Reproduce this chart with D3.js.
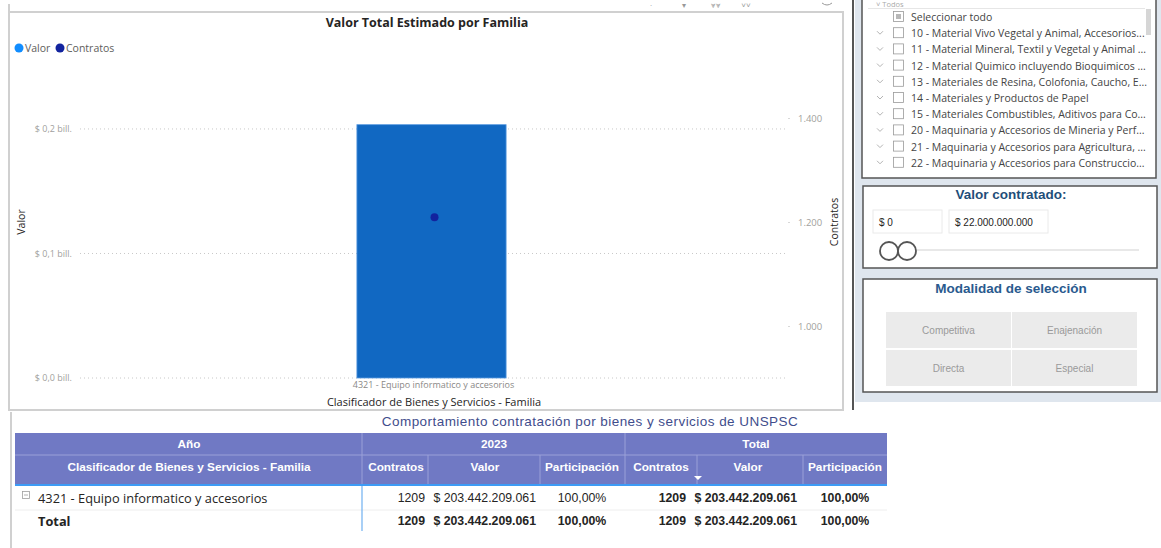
<!DOCTYPE html>
<html><head><meta charset="utf-8">
<script src="https://cdn.jsdelivr.net/npm/d3@7"></script>
<style>
html,body{margin:0;padding:0;background:#fff;}
svg{display:block;}
</style></head>
<body>
<svg id="c" width="1161" height="548"></svg>
<script>
// ---------- DATA ----------
const categories = ["4321 - Equipo informatico y accesorios"];
const valor = [203442209061];
const contratos = [1209];
const leftTicks = [0, 0.1e12, 0.2e12];
const rightTicks = [1000, 1200, 1400];
const years = ["2023"];
const participacion = ["100,00%"];
const slicerItems = [
  "Seleccionar todo",
  "10 - Material Vivo Vegetal y Animal, Accesorios...",
  "11 - Material Mineral, Textil y Vegetal y Animal ...",
  "12 - Material Quimico incluyendo Bioquimicos ...",
  "13 - Materiales de Resina, Colofonia, Caucho, E...",
  "14 - Materiales y Productos de Papel",
  "15 - Materiales Combustibles, Aditivos para Co...",
  "20 - Maquinaria y Accesorios de Mineria y Perf...",
  "21 - Maquinaria y Accesorios para Agricultura, ...",
  "22 - Maquinaria y Accesorios para Construccio..."
];
const rangeValues = ["$ 0", "$ 22.000.000.000"];
const modalidades = ["Competitiva", "Enajenación", "Directa", "Especial"];

// ---------- HELPERS ----------
const svg = d3.select("#c");
const UI = "'Segoe UI','Open Sans',sans-serif";
const AR = "Arial,'Liberation Sans',sans-serif";
const fmtBill = v => "$ " + (v/1e12).toFixed(1).replace(".", ",") + " bill.";
const fmtInt = v => d3.format(",")(v).replace(/,/g, ".");
const fmtMoney = v => "$ " + fmtInt(v);

// ---------- RIGHT PANEL BACKGROUND ----------
svg.append("rect").attr("x",855).attr("y",0).attr("width",306).attr("height",402).attr("fill","#dfe6ee");
svg.append("line").attr("x1",853).attr("x2",853).attr("y1",0).attr("y2",410).attr("stroke","#555").attr("stroke-width",2);

// ---------- CHART PANEL ----------
svg.append("path").attr("d","M9,4 V410 H843 V12 H10").attr("fill","none").attr("stroke","#d0d0d0").attr("stroke-width",2);
svg.append("path").attr("d","M11,412 V548").attr("stroke","#d0d0d0").attr("stroke-width",2);

// header icons
const icons = svg.append("g").attr("fill","#999").attr("font-family",UI).attr("font-size",8);
[[651,"·"],[684,"▾"],[716,"⩔⩔"],[746,"˅˅"]].forEach(d=>icons.append("text").attr("x",d[0]).attr("y",8).attr("text-anchor","middle").text(d[1]));
svg.append("path").attr("d","M822,3 Q827,7 832,3").attr("fill","none").attr("stroke","#999");

svg.append("text").attr("x",427).attr("y",27).attr("text-anchor","middle")
  .attr("font-family",UI).attr("font-weight","bold").attr("font-size",12.5).attr("fill","#252423")
  .text("Valor Total Estimado por Familia");

// legend
const lg = svg.append("g").attr("font-family",UI).attr("font-size",10.5).attr("fill","#605e5c");
lg.append("circle").attr("cx",19).attr("cy",48).attr("r",4.5).attr("fill","#118dff");
lg.append("text").attr("x",25).attr("y",52).text("Valor");
lg.append("circle").attr("cx",60).attr("cy",48).attr("r",4.5).attr("fill","#12239e");
lg.append("text").attr("x",66).attr("y",52).text("Contratos");

// scales
const x = d3.scaleBand().domain(categories).range([77,786]).paddingInner(0).paddingOuter(1.876);
const yL = d3.scaleLinear().domain([0,0.2088e12]).range([378,118]);
const yR = d3.scaleLinear().domain([900,1400]).range([378,118]);

// gridlines
svg.append("g").selectAll("line").data(leftTicks).join("line")
  .attr("x1",80).attr("x2",787).attr("y1",d=>yL(d)).attr("y2",d=>yL(d))
  .attr("stroke","#c8c8c8").attr("stroke-dasharray","1,3");

// left axis
const gL = svg.append("g").attr("transform","translate(74,0)")
  .call(d3.axisLeft(yL).tickValues(leftTicks).tickFormat(fmtBill).tickSize(0).tickPadding(2));
gL.select(".domain").remove();
gL.selectAll("text").attr("font-family",UI).attr("font-size",9).attr("fill","#a19f9d");

// right axis
const gR = svg.append("g").attr("transform","translate(788,0)")
  .call(d3.axisRight(yR).tickValues(rightTicks).tickFormat(d=>fmtInt(d)).tickSize(2).tickPadding(8));
gR.select(".domain").remove();
gR.selectAll("line").attr("stroke","#d8d8d8");
gR.selectAll("text").attr("font-family",UI).attr("font-size",9.5).attr("fill","#a19f9d");

// axis titles
svg.append("text").attr("transform","translate(25,222) rotate(-90)").attr("text-anchor","middle")
  .attr("font-family",UI).attr("font-size",10.5).attr("fill","#252423").text("Valor");
svg.append("text").attr("transform","translate(838,222) rotate(-90)").attr("text-anchor","middle")
  .attr("font-family",UI).attr("font-size",10.5).attr("fill","#252423").text("Contratos");

// bars
svg.append("g").selectAll("rect").data(categories).join("rect")
  .attr("x",d=>x(d)).attr("width",x.bandwidth())
  .attr("y",(d,i)=>yL(valor[i])).attr("height",(d,i)=>yL(0)-yL(valor[i]))
  .attr("fill","#1168c2").attr("stroke","#5b9be0").attr("stroke-width",0.8);

// points
svg.append("g").selectAll("circle").data(categories).join("circle")
  .attr("cx",d=>x(d)+x.bandwidth()/2+3).attr("cy",(d,i)=>yR(contratos[i])).attr("r",4)
  .attr("fill","#12239e");

// x axis
const gX = svg.append("g").attr("transform","translate(2,378)")
  .call(d3.axisBottom(x).tickSize(0).tickPadding(4));
gX.select(".domain").remove();
gX.selectAll("text").attr("font-family",UI).attr("font-size",9).attr("fill","#8a8886");
svg.append("text").attr("x",434).attr("y",406).attr("text-anchor","middle")
  .attr("font-family",UI).attr("font-size",11).attr("fill","#252423")
  .text("Clasificador de Bienes y Servicios - Familia");

// ---------- TABLE ----------
svg.append("text").attr("x",590).attr("y",426).attr("text-anchor","middle")
  .attr("font-family",AR).attr("font-size",13.5).attr("letter-spacing",0.45).attr("fill","#3f4d8c")
  .text("Comportamiento contratación por bienes y servicios de UNSPSC");

const hdr = "#7079c4";
svg.append("rect").attr("x",15).attr("y",433).attr("width",872).attr("height",52).attr("fill",hdr);
svg.append("line").attr("x1",15).attr("x2",887).attr("y1",455).attr("y2",455).attr("stroke","#9aa1d8").attr("stroke-width",1);
[362,625].forEach(v=>svg.append("line").attr("x1",v).attr("x2",v).attr("y1",433).attr("y2",485).attr("stroke","#9aa1d8"));
[428,540,697,803].forEach(v=>svg.append("line").attr("x1",v).attr("x2",v).attr("y1",455).attr("y2",485).attr("stroke","#9aa1d8"));
svg.append("line").attr("x1",15).attr("x2",887).attr("y1",485).attr("y2",485).attr("stroke","#3d9bf5").attr("stroke-width",2);

const th = svg.append("g").attr("font-family",AR).attr("font-weight","bold").attr("font-size",11.8).attr("fill","#fff").attr("text-anchor","middle");
th.append("text").attr("x",189).attr("y",448).text("Año");
th.append("text").attr("x",494).attr("y",448).text(years[0]);
th.append("text").attr("x",756).attr("y",448).text("Total");
const cols2 = [[189,"Clasificador de Bienes y Servicios - Familia"],[396,"Contratos"],[485,"Valor"],[582,"Participación"],[661,"Contratos"],[748,"Valor"],[845,"Participación"]];
cols2.forEach(d=>th.append("text").attr("x",d[0]).attr("y",471).text(d[1]));
svg.append("path").attr("d","M694,476 L702,476 L698,480 Z").attr("fill","#fff");

// rows
svg.append("line").attr("x1",15).attr("x2",887).attr("y1",510).attr("y2",510).attr("stroke","#eeeeee");
svg.append("line").attr("x1",362).attr("x2",362).attr("y1",486).attr("y2",531).attr("stroke","#6fb0f0").attr("stroke-width",1.2);

const rowY = [502, 525];
const rowLabels = [categories[0], "Total"];
svg.append("rect").attr("x",22.5).attr("y",491.5).attr("width",7).attr("height",7).attr("fill","none").attr("stroke","#a0a0a0").attr("stroke-width",0.8);
svg.append("line").attr("x1",24).attr("x2",28).attr("y1",495).attr("y2",495).attr("stroke","#a0a0a0").attr("stroke-width",0.8);

rowLabels.forEach((lab,i)=>{
  const bold = i===1;
  svg.append("text").attr("x",38).attr("y",rowY[i]+1).attr("font-family",UI).attr("font-size",12.8)
    .attr("font-weight",bold?"bold":"normal").attr("fill","#252423").text(lab);
  const g = svg.append("g").attr("font-family",AR).attr("font-size",12.3).attr("fill","#252423");
  const vals = [
    [425,"end",String(contratos[0]),bold],
    [536,"end",fmtMoney(valor[0]),bold],
    [582,"middle",participacion[0],bold],
    [686,"end",String(contratos[0]),true],
    [797,"end",fmtMoney(valor[0]),true],
    [845,"middle",participacion[0],true]
  ];
  vals.forEach(v=>g.append("text").attr("x",v[0]).attr("y",rowY[i]).attr("text-anchor",v[1])
    .attr("font-weight",v[3]?"bold":"normal").text(v[2]));
});

// ---------- SLICER LIST ----------
svg.append("rect").attr("x",862).attr("y",-2).attr("width",294).attr("height",180).attr("fill","#fff").attr("stroke","#555").attr("stroke-width",1.5);
svg.append("line").attr("x1",868).attr("x2",1145).attr("y1",8.5).attr("y2",8.5).attr("stroke","#e6e6e6");
svg.append("text").attr("x",876).attr("y",7).attr("font-family",UI).attr("font-size",7.5).attr("fill","#aaa").text("˅     Todos");
svg.append("rect").attr("x",1146).attr("y",9).attr("width",5).attr("height",26).attr("fill","#d6d6d6");
const sl = svg.append("g").attr("font-family",UI).attr("font-size",10.5).attr("fill","#444");
slicerItems.forEach((t,i)=>{
  const yy = 17 + i*16.2;
  if(i>0){
    svg.append("path").attr("d",`M877,${yy-2} l3,3 l3,-3`).attr("fill","none").attr("stroke","#aaa").attr("stroke-width",0.9);
  }
  svg.append("rect").attr("x",893.5).attr("y",yy-5.5).attr("width",10).attr("height",10).attr("fill","#fff").attr("stroke","#9a9a9a").attr("stroke-width",0.8);
  if(i===0) svg.append("rect").attr("x",896).attr("y",yy-3).attr("width",5).attr("height",5).attr("fill","#b8b8b8");
  sl.append("text").attr("x",911).attr("y",yy+4).text(t);
});

// ---------- VALOR CONTRATADO ----------
svg.append("rect").attr("x",863).attr("y",186).attr("width",294).attr("height",82).attr("fill","#fff").attr("stroke","#555").attr("stroke-width",1.5);
svg.append("text").attr("x",1011).attr("y",199).attr("text-anchor","middle").attr("font-family",AR).attr("font-weight","bold")
  .attr("font-size",13.5).attr("fill","#1f4e79").text("Valor contratado:");
[[873,69],[949,99]].forEach((b,i)=>{
  svg.append("rect").attr("x",b[0]).attr("y",210).attr("width",b[1]).attr("height",23).attr("fill","#fff").attr("stroke","#eaeaea");
  svg.append("text").attr("x",b[0]+6).attr("y",225.5).attr("font-family",AR).attr("font-size",10).attr("fill","#252423").text(rangeValues[i]);
});
svg.append("line").attr("x1",895).attr("x2",1139).attr("y1",250).attr("y2",250).attr("stroke","#e8e8e8").attr("stroke-width",2);
[889,907].forEach(cx=>svg.append("circle").attr("cx",cx).attr("cy",251).attr("r",9).attr("fill","#fff").attr("stroke","#555").attr("stroke-width",1.8));

// ---------- MODALIDAD ----------
svg.append("rect").attr("x",863).attr("y",279).attr("width",294).attr("height",113).attr("fill","#fff").attr("stroke","#555").attr("stroke-width",1.5);
svg.append("text").attr("x",1011).attr("y",293).attr("text-anchor","middle").attr("font-family",AR).attr("font-weight","bold")
  .attr("font-size",13.5).attr("fill","#2a5a8e").text("Modalidad de selección");
modalidades.forEach((m,i)=>{
  const bx = i%2===0 ? 886 : 1012;
  const by = i<2 ? 312 : 350;
  svg.append("rect").attr("x",bx).attr("y",by).attr("width",125).attr("height",36).attr("fill","#ebebeb");
  svg.append("text").attr("x",bx+62.5).attr("y",by+22).attr("text-anchor","middle").attr("font-family",AR)
    .attr("font-size",10).attr("fill","#9a9a9a").text(m);
});
</script>
</body></html>
